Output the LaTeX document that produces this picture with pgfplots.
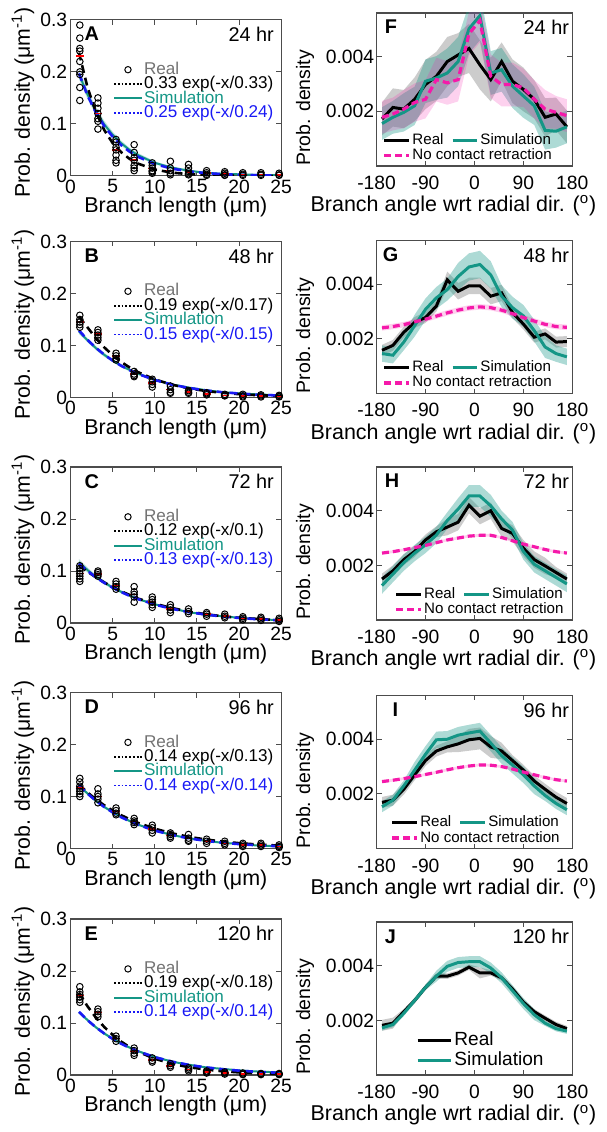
\documentclass[border=0pt]{standalone}
\usepackage{fontspec}
\setmainfont{Liberation Sans}
\usepackage{pgfplots}
\usepackage{pgfplotstable}
\pgfplotsset{compat=1.18}
\usepgfplotslibrary{fillbetween}

\definecolor{simteal}{RGB}{20,150,134}
\definecolor{fitblue}{RGB}{25,25,245}
\definecolor{nocr}{RGB}{245,25,170}
\definecolor{realgray}{RGB}{115,115,115}

% ---------- length panels: x, black fit, blue fit, simulation, sim spread
\pgfplotstableread{
x fr fb s e
1 0.237 0.197 0.196 0.010
2 0.171 0.155 0.157 0.009
3 0.123 0.122 0.125 0.008
4 0.088 0.0957 0.099 0.007
5 0.063 0.0753 0.079 0.006
6 0.0456 0.0592 0.063 0.005
7 0.0328 0.0466 0.050 0.004
8 0.0236 0.0367 0.040 0.004
10 0.0122 0.0227 0.025 0.003
12 0.0063 0.0140 0.016 0.002
14 0.0033 0.0087 0.010 0.002
16 0.0017 0.0054 0.006 0.001
18 0.0009 0.0033 0.004 0.001
20 0.0005 0.0021 0.003 0.001
22 0.0002 0.0013 0.002 0.001
25 0.0001 0.0006 0.001 0.001
}\tA
\pgfplotstableread{
x fr fb s e
1 0.155 0.129 0.127 0.005
2 0.135 0.111 0.110 0.004
3 0.114 0.0956 0.095 0.004
4 0.0963 0.0823 0.082 0.004
5 0.0812 0.0709 0.071 0.003
6 0.0685 0.0610 0.061 0.003
7 0.0578 0.0525 0.053 0.003
8 0.0488 0.0452 0.046 0.003
10 0.0347 0.0335 0.034 0.002
12 0.0247 0.0248 0.025 0.002
14 0.0176 0.0184 0.019 0.002
16 0.0125 0.0136 0.014 0.002
18 0.0089 0.0101 0.010 0.001
20 0.0063 0.0075 0.008 0.001
22 0.0045 0.0055 0.006 0.001
25 0.0027 0.0035 0.004 0.001
}\tB
\pgfplotstableread{
x fr fb s e
1 0.110 0.1142 0.117 0.006
2 0.099 0.1002 0.102 0.005
3 0.088 0.0880 0.089 0.004
4 0.078 0.0773 0.078 0.004
5 0.069 0.0679 0.068 0.003
6 0.061 0.0596 0.060 0.003
7 0.054 0.0523 0.053 0.003
8 0.047 0.0460 0.046 0.002
10 0.037 0.0354 0.036 0.002
12 0.029 0.0273 0.028 0.002
14 0.022 0.0211 0.021 0.001
16 0.017 0.0162 0.016 0.001
18 0.013 0.0125 0.013 0.001
20 0.010 0.0097 0.010 0.001
22 0.008 0.0074 0.008 0.001
25 0.005 0.0050 0.005 0.001
}\tC
\pgfplotstableread{
x fr fb s e
1 0.1229 0.1217 0.121 0.003
2 0.1080 0.1058 0.106 0.003
3 0.0948 0.0920 0.092 0.003
4 0.0832 0.0800 0.080 0.003
5 0.0731 0.0695 0.070 0.002
6 0.0642 0.0604 0.061 0.002
7 0.0564 0.0525 0.053 0.002
8 0.0495 0.0457 0.046 0.002
10 0.0382 0.0345 0.035 0.002
12 0.0294 0.0261 0.026 0.001
14 0.0227 0.0197 0.020 0.001
16 0.0175 0.0149 0.015 0.001
18 0.0135 0.0113 0.011 0.001
20 0.0104 0.0085 0.009 0.001
22 0.0080 0.0064 0.006 0.001
25 0.0054 0.0042 0.004 0.001
}\tD
\pgfplotstableread{
x fr fb s e
1 0.1587 0.1217 0.121 0.003
2 0.1326 0.1058 0.106 0.003
3 0.1107 0.0920 0.092 0.003
4 0.0925 0.0800 0.080 0.003
5 0.0773 0.0695 0.070 0.002
6 0.0645 0.0604 0.061 0.002
7 0.0539 0.0525 0.053 0.002
8 0.0450 0.0457 0.046 0.002
10 0.0314 0.0345 0.035 0.002
12 0.0219 0.0261 0.026 0.001
14 0.0153 0.0197 0.020 0.001
16 0.0107 0.0149 0.015 0.001
18 0.0074 0.0113 0.012 0.001
20 0.0052 0.0085 0.009 0.001
22 0.0036 0.0064 0.007 0.001
25 0.0021 0.0042 0.005 0.001
}\tE

% ---------- angle panels: real, sim, no contact retraction, with spreads
\pgfplotstableread{
x r re s se n ne
-170 0.00172 0.0006 0.00155 0.0006 0.00178 0.0006
-150 0.00214 0.0007 0.00178 0.0006 0.00190 0.0006
-130 0.00208 0.0007 0.00196 0.0007 0.00208 0.0007
-110 0.00244 0.0008 0.00220 0.0007 0.00232 0.0007
-90 0.00298 0.0009 0.00310 0.0008 0.00244 0.0007
-70 0.00328 0.0009 0.00322 0.0008 0.00316 0.0008
-50 0.00382 0.0009 0.00340 0.0009 0.00304 0.0008
-30 0.00406 0.0008 0.00382 0.0009 0.00316 0.0008
-10 0.00430 0.0009 0.00502 0.0009 0.00484 0.0008
10 0.00370 0.0009 0.00550 0.0009 0.00532 0.0008
30 0.00316 0.0008 0.00340 0.0008 0.00328 0.0008
50 0.00382 0.0007 0.00352 0.0008 0.00298 0.0008
70 0.00310 0.0008 0.00292 0.0008 0.00298 0.0008
90 0.00280 0.0008 0.00256 0.0008 0.00286 0.0007
110 0.00244 0.0007 0.00220 0.0007 0.00244 0.0007
130 0.00178 0.0007 0.00130 0.0007 0.00208 0.0007
150 0.00190 0.0006 0.00127 0.0006 0.00196 0.0006
170 0.00143 0.0006 0.00143 0.0006 0.00184 0.0006
}\tF
\pgfplotstableread{
x r re s se n ne
-170 0.00158 0.0002 0.00146 0.0003 0.00240 0.0001
-150 0.00176 0.0002 0.00140 0.0003 0.00245 0.0001
-130 0.00224 0.0002 0.00188 0.0003 0.00252 0.0001
-110 0.00260 0.0002 0.00248 0.0004 0.00262 0.0001
-90 0.00278 0.0002 0.00308 0.0004 0.00272 0.0001
-70 0.00320 0.0002 0.00350 0.0004 0.00283 0.0001
-50 0.00416 0.0003 0.00380 0.0004 0.00295 0.0001
-30 0.00374 0.0003 0.00428 0.0005 0.00305 0.0001
-10 0.00394 0.0003 0.00463 0.0005 0.00313 0.0001
10 0.00394 0.0003 0.00472 0.0005 0.00317 0.0001
30 0.00356 0.0003 0.00434 0.0005 0.00314 0.0001
50 0.00368 0.0003 0.00356 0.0004 0.00305 0.0001
70 0.00296 0.0002 0.00314 0.0004 0.00292 0.0001
90 0.00254 0.0002 0.00284 0.0004 0.00278 0.0001
110 0.00206 0.0002 0.00230 0.0004 0.00265 0.0001
130 0.00218 0.0002 0.00170 0.0004 0.00253 0.0001
150 0.00188 0.0002 0.00146 0.0003 0.00245 0.0001
170 0.00190 0.0002 0.00134 0.0003 0.00242 0.0001
}\tG
\pgfplotstableread{
x r re s se n ne
-170 0.00150 0.0002 0.00126 0.0003 0.00245 0.00005
-150 0.00180 0.0002 0.00168 0.0003 0.00250 0.00005
-130 0.00221 0.0002 0.00210 0.0003 0.00257 0.00005
-110 0.00251 0.0002 0.00245 0.0003 0.00265 0.00005
-90 0.00293 0.0002 0.00275 0.0003 0.00273 0.00005
-70 0.00323 0.0002 0.00311 0.0003 0.00283 0.00005
-50 0.00340 0.0003 0.00364 0.0003 0.00293 0.00005
-30 0.00358 0.0003 0.00406 0.0004 0.00300 0.00005
-10 0.00420 0.0003 0.00454 0.0004 0.00307 0.00005
10 0.00380 0.0003 0.00454 0.0004 0.00310 0.00005
30 0.00400 0.0003 0.00418 0.0004 0.00310 0.00005
50 0.00335 0.0003 0.00370 0.0003 0.00302 0.00005
70 0.00317 0.0003 0.00329 0.0003 0.00290 0.00005
90 0.00263 0.0003 0.00251 0.0003 0.00278 0.00005
110 0.00221 0.0003 0.00204 0.0003 0.00268 0.00005
130 0.00198 0.0003 0.00180 0.0003 0.00258 0.00005
150 0.00174 0.0002 0.00156 0.0003 0.00250 0.00005
170 0.00150 0.0002 0.00132 0.0003 0.00245 0.00005
}\tH
\pgfplotstableread{
x r re s se n ne
-170 0.00169 0.0002 0.00153 0.0002 0.00245 0.00005
-150 0.00177 0.0002 0.00177 0.0002 0.00250 0.00005
-130 0.00217 0.0002 0.00229 0.0002 0.00256 0.00005
-110 0.00270 0.0002 0.00287 0.0003 0.00263 0.00005
-90 0.00322 0.0002 0.00345 0.0003 0.00271 0.00005
-70 0.00357 0.0002 0.00398 0.0003 0.00279 0.00005
-50 0.00372 0.0002 0.00400 0.0003 0.00288 0.00005
-30 0.00383 0.0003 0.00415 0.0003 0.00296 0.00005
-10 0.00398 0.0004 0.00423 0.0003 0.00302 0.00005
10 0.00403 0.0004 0.00430 0.0003 0.00306 0.00005
30 0.00372 0.0004 0.00386 0.0003 0.00305 0.00005
50 0.00357 0.0003 0.00340 0.0003 0.00300 0.00005
70 0.00322 0.0002 0.00305 0.0003 0.00291 0.00005
90 0.00287 0.0002 0.00270 0.0003 0.00280 0.00005
110 0.00247 0.0002 0.00229 0.0003 0.00270 0.00005
130 0.00217 0.0002 0.00194 0.0002 0.00260 0.00005
150 0.00188 0.0002 0.00165 0.0002 0.00252 0.00005
170 0.00165 0.0002 0.00142 0.0002 0.00247 0.00005
}\tI
\pgfplotstableread{
x r re s se
-170 0.00182 0.0002 0.00173 0.0001
-150 0.00190 0.0002 0.00185 0.0001
-130 0.00232 0.0001 0.00226 0.0001
-110 0.00273 0.0001 0.00273 0.0001
-90 0.00321 0.0001 0.00321 0.0001
-70 0.00362 0.0001 0.00362 0.0002
-50 0.00362 0.0001 0.00398 0.0002
-30 0.00374 0.0001 0.00412 0.0002
-10 0.00395 0.0001 0.00415 0.0002
10 0.00374 0.0002 0.00415 0.0002
30 0.00374 0.0001 0.00392 0.0002
50 0.00356 0.0001 0.00356 0.0002
70 0.00315 0.0001 0.00309 0.0002
90 0.00267 0.0001 0.00262 0.0002
110 0.00232 0.0001 0.00221 0.0002
130 0.00208 0.0001 0.00190 0.0001
150 0.00185 0.0001 0.00170 0.0001
170 0.00170 0.0001 0.00161 0.0001
}\tJ

\newcommand{\band}[5]{%
  \addplot[draw=none, forget plot, name path=#5u#2] table[x=x, y expr=\thisrow{#2}+\thisrow{#3}] {#1};
  \addplot[draw=none, forget plot, name path=#5l#2] table[x=x, y expr=\thisrow{#2}-\thisrow{#3}] {#1};
  \addplot[#4, draw=none, forget plot] fill between[of=#5u#2 and #5l#2];
}
\newcommand{\lenlegend}[2]{%
  \addlegendimage{legend image code/.code={\draw[black, line width=0.5pt] (7pt,0pt) circle (1.6pt);}}
  \addlegendentry{\textcolor{realgray}{Real}}
  \addlegendimage{black, line width=0.9pt, densely dotted}
  \addlegendentry{#1}
  \addlegendimage{simteal, line width=1pt}
  \addlegendentry{\textcolor{simteal}{Simulation}}
  \addlegendimage{fitblue, line width=0.9pt, densely dotted}
  \addlegendentry{\textcolor{fitblue}{#2}}
}
\newcommand{\lencurves}[2]{%
  \band{#1}{s}{e}{fill=simteal, fill opacity=0.25}{#2}
  \addplot[simteal, line width=1pt, forget plot] table[x=x, y=s] {#1};
  \addplot[black, line width=1.3pt, dash pattern=on 4pt off 2.5pt, forget plot] table[x=x, y=fr] {#1};
  \addplot[fitblue, line width=1.3pt, dash pattern=on 4pt off 2.5pt, forget plot] table[x=x, y=fb] {#1};
}
\newcommand{\angcurves}[2]{%
  \band{#1}{r}{re}{fill=black, fill opacity=0.2}{#2}
  \band{#1}{s}{se}{fill=simteal, fill opacity=0.35}{#2}
  \band{#1}{n}{ne}{fill=nocr, fill opacity=0.2}{#2}
  \addplot[black, line width=1.5pt] table[x=x, y=r] {#1};
  \addlegendentry{Real}
  \addplot[simteal, line width=1.5pt] table[x=x, y=s] {#1};
  \addlegendentry{Simulation}
  \addplot[nocr, line width=1.6pt, dash pattern=on 3.5pt off 2pt] table[x=x, y=n] {#1};
  \addlegendentry{\makebox[0pt][l]{No contact retraction}}
}
\newcommand{\paneltext}[4]{%
  \node[anchor=north west, inner sep=0pt, font=\bfseries\fontsize{10}{10}\selectfont] at (rel axis cs:#1,0.955) {#2};
  \node[anchor=north east, inner sep=0pt, font=\fontsize{10}{10}\selectfont] at (rel axis cs:#3,0.955) {#4};
}

\pgfplotsset{
  mybase/.style={
    scale only axis,
    axis line style={black!70, line width=0.6pt},
    every tick/.style={black!70, line width=0.5pt},
    major tick length=2.5pt,
    tick align=inside,
    scaled ticks=false,
    /pgf/number format/assume math mode=true,
    tick label style={font=\fontsize{9.7}{9.7}\selectfont},
    label style={font=\fontsize{10.8}{10.8}\selectfont},
    legend cell align=left,
  },
  lenpanel/.style={mybase, width=106pt, height=78.5pt,
    xmin=0, xmax=25, ymin=0, ymax=0.3,
    xtick={0,5,10,15,20,25}, xticklabels={0,5,10,15,20,25},
    ytick={0,0.1,0.2,0.3}, yticklabels={0,0.1,0.2,0.3},
    xticklabel style={yshift=1.6pt}, yticklabel style={xshift=1.8pt},
    xlabel={Branch length (μm)},
    ylabel={Prob. density (μm\textsuperscript{-1})},
    xlabel style={at={(axis description cs:0.5,-0.2)}, anchor=center},
    ylabel style={at={(axis description cs:-0.226,0.47)}, anchor=center, font=\fontsize{10.7}{10.7}\selectfont},
    legend style={at={(0.2,0.74)}, anchor=north west, draw=none, fill=none,
      font=\fontsize{8.6}{8.6}\selectfont, inner sep=0pt, row sep=-1.7pt,
      nodes={inner sep=0.6pt}},
    legend image code/.code={\draw[##1] (0pt,0pt) -- (14pt,0pt);},
  },
  angpanel/.style={mybase, width=98.5pt, height=77pt,
    xmin=-180, xmax=180, ymin=0, ymax=0.0056,
    xtick={-180,-90,0,90,180}, xticklabels={-180,-90,0,90,180},
    ytick={0.002,0.004}, yticklabels={0.002,0.004},
    xticklabel style={yshift=-1.5pt}, yticklabel style={xshift=2.3pt},
    xlabel={Branch angle wrt radial dir. (\textsuperscript{o})},
    ylabel={Prob. density},
    xlabel style={at={(axis description cs:0.393,-0.262)}, anchor=center},
    ylabel style={at={(axis description cs:-0.365,0.38)}, anchor=center, font=\fontsize{9.8}{9.8}\selectfont},
    legend columns=2,
    legend style={draw=none, fill=none, anchor=south west,
      font=\fontsize{7.6}{7.6}\selectfont, inner sep=0pt, row sep=-1pt,
      nodes={inner sep=0.8pt},
      /tikz/every even column/.append style={column sep=3pt}},
    legend image code/.code={\draw[##1] (0pt,0pt) -- (12.5pt,0pt);},
  },
  realpts/.style={only marks, mark=o, mark size=1.65pt, black, mark options={line width=0.5pt}, forget plot},
  meanpts/.style={only marks, mark=-, mark size=2pt, red, mark options={line width=0.8pt}, forget plot},
}

\begin{document}
\begin{tikzpicture}
\path (0,0) rectangle (305pt,-566pt);

% ================= A
\begin{axis}[lenpanel, at={(35.5pt,-88.5pt)}, anchor=south west]
\addplot[meanpts] coordinates {(1.1,0.23)(3.25,0.12)(5.4,0.05)(7.55,0.03)(9.7,0.014)(11.85,0.01)(14,0.008)(16.15,0.005)(18.3,0.004)(20.45,0.003)(22.6,0.003)(24.75,0.002)};
\addplot[realpts] coordinates {
(1.1,0.29)(1.1,0.265)(1.1,0.245)(1.1,0.24)(1.1,0.22)(1.1,0.2)(1.1,0.195)(1.1,0.17)(1.1,0.145)
(3.25,0.15)(3.25,0.14)(3.25,0.13)(3.25,0.12)(3.25,0.11)(3.25,0.105)(3.25,0.09)
(5.4,0.07)(5.4,0.065)(5.4,0.055)(5.4,0.05)(5.4,0.04)(5.4,0.03)(5.4,0.025)
(7.55,0.06)(7.55,0.045)(7.55,0.035)(7.55,0.03)(7.55,0.02)(7.55,0.015)(7.55,0.01)
(9.7,0.025)(9.7,0.02)(9.7,0.015)(9.7,0.01)(9.7,0.008)(9.7,0.005)
(11.85,0.028)(11.85,0.015)(11.85,0.01)(11.85,0.005)(11.85,0.002)
(14,0.022)(14,0.015)(14,0.008)(14,0.004)(14,0.002)
(16.15,0.01)(16.15,0.006)(16.15,0.003)(16.15,0.001)
(18.3,0.008)(18.3,0.005)(18.3,0.002)(18.3,0.001)
(20.45,0.006)(20.45,0.003)(20.45,0.001)
(22.6,0.006)(22.6,0.003)(22.6,0.001)
(24.75,0.005)(24.75,0.002)(24.75,0.001)};
\lencurves{\tA}{A}
\lenlegend{0.33 exp(-x/0.33)}{0.25 exp(-x/0.24)}
\paneltext{0.065}{A}{0.967}{24 hr}
\end{axis}

% ================= B
\begin{axis}[lenpanel, at={(35.5pt,-200pt)}, anchor=south west]
\addplot[meanpts] coordinates {(1.1,0.145)(3.25,0.122)(5.4,0.08)(7.55,0.045)(9.7,0.028)(11.85,0.015)(14,0.01)(16.15,0.007)(18.3,0.004)(20.45,0.003)(22.6,0.003)(24.75,0.002)};
\addplot[realpts] coordinates {
(1.1,0.158)(1.1,0.15)(1.1,0.145)(1.1,0.14)(1.1,0.135)
(3.25,0.13)(3.25,0.125)(3.25,0.12)(3.25,0.115)(3.25,0.11)
(5.4,0.085)(5.4,0.08)(5.4,0.075)(5.4,0.072)
(7.55,0.05)(7.55,0.045)(7.55,0.042)(7.55,0.04)
(9.7,0.035)(9.7,0.03)(9.7,0.025)(9.7,0.02)
(11.85,0.022)(11.85,0.015)(11.85,0.01)(11.85,0.008)
(14,0.013)(14,0.01)(14,0.008)
(16.15,0.009)(16.15,0.007)(16.15,0.005)
(18.3,0.006)(18.3,0.004)(18.3,0.003)
(20.45,0.006)(20.45,0.003)(20.45,0.001)
(22.6,0.005)(22.6,0.003)(22.6,0.001)
(24.75,0.004)(24.75,0.002)(24.75,0.001)};
\lencurves{\tB}{B}
\lenlegend{0.19 exp(-x/0.17)}{0.15 exp(-x/0.15)}
\paneltext{0.065}{B}{0.967}{48 hr}
\end{axis}

% ================= C
\begin{axis}[lenpanel, at={(35.5pt,-313.5pt)}, anchor=south west]
\addplot[meanpts] coordinates {(1.1,0.095)(3.25,0.094)(5.4,0.072)(7.55,0.055)(9.7,0.04)(11.85,0.027)(14,0.022)(16.15,0.017)(18.3,0.013)(20.45,0.009)(22.6,0.008)(24.75,0.006)};
\addplot[realpts] coordinates {
(1.1,0.11)(1.1,0.105)(1.1,0.1)(1.1,0.095)(1.1,0.09)(1.1,0.085)(1.1,0.08)
(3.25,0.1)(3.25,0.097)(3.25,0.093)(3.25,0.09)
(5.4,0.08)(5.4,0.075)(5.4,0.07)(5.4,0.065)
(7.55,0.07)(7.55,0.06)(7.55,0.055)(7.55,0.05)(7.55,0.04)
(9.7,0.05)(9.7,0.045)(9.7,0.04)(9.7,0.035)(9.7,0.03)
(11.85,0.035)(11.85,0.03)(11.85,0.025)(11.85,0.02)
(14,0.027)(14,0.022)(14,0.018)
(16.15,0.02)(16.15,0.017)(16.15,0.013)
(18.3,0.017)(18.3,0.013)(18.3,0.01)
(20.45,0.012)(20.45,0.009)(20.45,0.006)
(22.6,0.011)(22.6,0.008)(22.6,0.005)
(24.75,0.009)(24.75,0.006)(24.75,0.003)};
\lencurves{\tC}{C}
\lenlegend{0.12 exp(-x/0.1)}{0.13 exp(-x/0.13)}
\paneltext{0.065}{C}{0.967}{72 hr}
\end{axis}

% ================= D
\begin{axis}[lenpanel, at={(35.5pt,-427pt)}, anchor=south west]
\addplot[meanpts] coordinates {(1.1,0.117)(3.25,0.1)(5.4,0.071)(7.55,0.052)(9.7,0.038)(11.85,0.025)(14,0.019)(16.15,0.014)(18.3,0.01)(20.45,0.007)(22.6,0.007)(24.75,0.004)};
\addplot[realpts] coordinates {
(1.1,0.135)(1.1,0.128)(1.1,0.12)(1.1,0.115)(1.1,0.11)(1.1,0.105)(1.1,0.1)
(3.25,0.115)(3.25,0.105)(3.25,0.1)(3.25,0.095)(3.25,0.088)
(5.4,0.078)(5.4,0.073)(5.4,0.068)(5.4,0.065)
(7.55,0.058)(7.55,0.053)(7.55,0.05)(7.55,0.046)
(9.7,0.045)(9.7,0.04)(9.7,0.035)(9.7,0.03)
(11.85,0.03)(11.85,0.027)(11.85,0.023)(11.85,0.02)
(14,0.027)(14,0.02)(14,0.016)(14,0.014)
(16.15,0.018)(16.15,0.014)(16.15,0.01)
(18.3,0.014)(18.3,0.01)(18.3,0.007)
(20.45,0.01)(20.45,0.007)(20.45,0.004)
(22.6,0.01)(22.6,0.007)(22.6,0.004)
(24.75,0.007)(24.75,0.004)(24.75,0.002)};
\lencurves{\tD}{D}
\lenlegend{0.14 exp(-x/0.13)}{0.14 exp(-x/0.14)}
\paneltext{0.065}{D}{0.967}{96 hr}
\end{axis}

% ================= E
\begin{axis}[lenpanel, at={(35.5pt,-541pt)}, anchor=south west]
\addplot[meanpts] coordinates {(1.1,0.153)(3.25,0.12)(5.4,0.07)(7.55,0.045)(9.7,0.029)(11.85,0.018)(14,0.011)(16.15,0.006)(18.3,0.004)(20.45,0.002)(22.6,0.002)(24.75,0.002)};
\addplot[realpts] coordinates {
(1.1,0.17)(1.1,0.16)(1.1,0.155)(1.1,0.15)(1.1,0.145)(1.1,0.14)
(3.25,0.127)(3.25,0.122)(3.25,0.117)(3.25,0.112)
(5.4,0.075)(5.4,0.07)(5.4,0.065)
(7.55,0.052)(7.55,0.047)(7.55,0.042)(7.55,0.038)
(9.7,0.033)(9.7,0.028)(9.7,0.025)
(11.85,0.022)(11.85,0.018)(11.85,0.015)
(14,0.014)(14,0.011)(14,0.008)
(16.15,0.008)(16.15,0.006)(16.15,0.004)
(18.3,0.006)(18.3,0.004)(18.3,0.002)
(20.45,0.004)(20.45,0.002)(20.45,0.001)
(22.6,0.003)(22.6,0.002)(22.6,0.001)
(24.75,0.003)(24.75,0.002)(24.75,0.001)};
\lencurves{\tE}{E}
\lenlegend{0.19 exp(-x/0.18)}{0.14 exp(-x/0.14)}
\paneltext{0.065}{E}{0.967}{120 hr}
\end{axis}

% ================= F
\begin{axis}[angpanel, at={(189.5pt,-83.5pt)}, anchor=south west, legend style={at={(0.03,0.01)}}]
\angcurves{\tF}{F}
\paneltext{0.04}{F}{0.985}{24 hr}
\end{axis}

% ================= G
\begin{axis}[angpanel, at={(189.5pt,-198pt)}, anchor=south west, legend style={at={(0.03,0.01)}}]
\angcurves{\tG}{G}
\paneltext{0.03}{G}{0.985}{48 hr}
\end{axis}

% ================= H
\begin{axis}[angpanel, at={(189.5pt,-312pt)}, anchor=south west, legend style={at={(0.09,0.01)}}]
\angcurves{\tH}{H}
\paneltext{0.04}{H}{0.985}{72 hr}
\end{axis}

% ================= I
\begin{axis}[angpanel, at={(189.5pt,-427pt)}, anchor=south west, legend style={at={(0.07,0.01)}}]
\angcurves{\tI}{I}
\paneltext{0.08}{I}{0.985}{96 hr}
\end{axis}

% ================= J
\begin{axis}[angpanel, at={(189.5pt,-541pt)}, anchor=south west, legend columns=1,
  legend style={at={(0.2,0.03)}, font=\fontsize{9.6}{9.6}\selectfont, row sep=0pt},
  legend image code/.code={\draw[#1] (0pt,0pt) -- (17pt,0pt);}]
\band{\tJ}{r}{re}{fill=black, fill opacity=0.2}{J}
\band{\tJ}{s}{se}{fill=simteal, fill opacity=0.35}{J}
\addplot[black, line width=1.5pt] table[x=x, y=r] {\tJ};
\addlegendentry{Real}
\addplot[simteal, line width=1.5pt] table[x=x, y=s] {\tJ};
\addlegendentry{Simulation}
\paneltext{0.04}{J}{0.985}{120 hr}
\end{axis}

\end{tikzpicture}
\end{document}
